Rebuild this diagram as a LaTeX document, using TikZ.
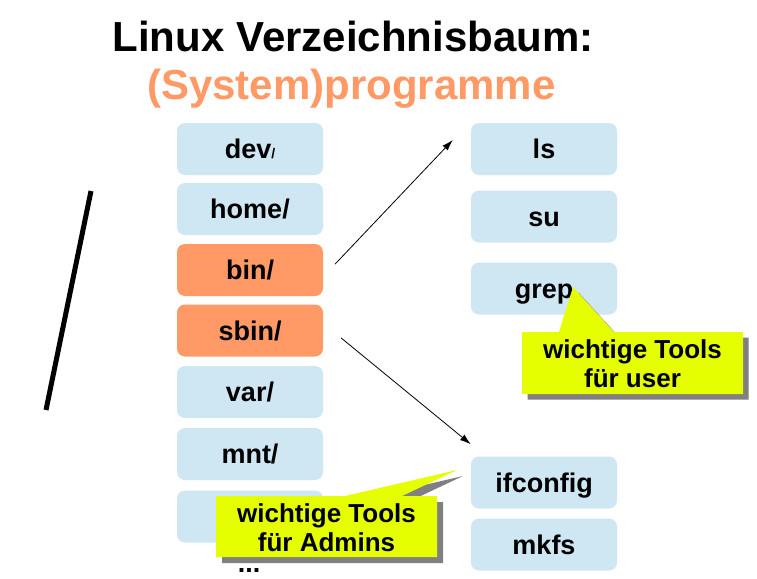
\documentclass[tikz,border=0pt]{standalone}
\usepackage{fontspec}
\setmainfont{Liberation Sans}
\usetikzlibrary{arrows.meta}
\definecolor{boxblue}{RGB}{207,230,243}
\definecolor{boxorange}{RGB}{255,153,102}
\definecolor{calloutyellow}{RGB}{229,255,0}
\definecolor{shadowgray}{RGB}{128,128,128}
\tikzset{
  dirbox/.style={rounded corners=8pt, fill=boxblue, minimum width=146pt, minimum height=52pt,
    inner sep=0pt, text height=19.5pt, text depth=0pt, font=\fontsize{27}{31}\selectfont\bfseries},
  hotbox/.style={dirbox, fill=boxorange},
  calltext/.style={align=center, inner sep=0pt, font=\fontsize{26}{29}\selectfont\bfseries},
  callshadow/.style={fill=shadowgray},
  callfill/.style={fill=calloutyellow},
  linkarrow/.style={-{Latex[length=11pt,width=7pt]}, line width=0.8pt},
  titlefont/.style={anchor=base, inner sep=0pt, font=\fontsize{42}{48}\selectfont\bfseries}
}
\begin{document}
\begin{tikzpicture}[x=1pt,y=-1pt]
\useasboundingbox[fill=white] (0,0) rectangle (757,578);
% title
\node[titlefont] (t1) at (353,52) {Linux Verzeichnisbaum:};
\node[titlefont, text=boxorange] (t2) at (351.5,99) {(System)programme};
% root slash
\draw[line width=5pt] (91,191) -- (46,410);
% left column
\node[dirbox] (dev) at (250,149) {dev{\fontsize{14}{16}\selectfont /}};
\node[dirbox] (home) at (250,209) {home/};
\node[hotbox] (bin) at (250,270) {bin/};
\node[hotbox] (sbin) at (250,330.5) {sbin/};
\node[dirbox] (var) at (250,392) {var/};
\node[dirbox] (mnt) at (250,454) {mnt/};
\node[dirbox] (blank) at (250,516.5) {};
\node[anchor=base, inner sep=0pt, font=\fontsize{27}{31}\selectfont\bfseries] (dots) at (249,572) {...};
% right column
\node[dirbox] (ls) at (544,149) {ls};
\node[dirbox] (su) at (544,216.5) {su};
\node[dirbox] (grep) at (544,288.5) {grep};
\node[dirbox] (ifconfig) at (544,482.5) {ifconfig};
\node[dirbox] (mkfs) at (544,544.5) {mkfs};
% arrows
\draw[linkarrow] ([xshift=12pt,yshift=6pt]bin.east) -- ([xshift=-18pt,yshift=9pt]ls.west);
\draw[linkarrow] ([xshift=18pt,yshift=-7.5pt]sbin.east) -- ([yshift=12pt]ifconfig.north west);
% callout: user
\fill[callshadow] (527.5,337.5) -- (564.5,337.5) -- (578.5,292.5) -- (619.5,337.5) -- (748.5,337.5) -- (748.5,399.5) -- (527.5,399.5) -- cycle;
\fill[callfill] (522,332) -- (559,332) -- (573,287) -- (614,332) -- (743,332) -- (743,394) -- (522,394) -- cycle;
\node[calltext] (cuser) at (632.5,364) {wichtige Tools\\für user};
% callout: admins
\fill[callshadow] (222,502) -- (351,502) -- (463,476) -- (408,502) -- (443,502) -- (443,563) -- (222,563) -- cycle;
\fill[callfill] (216,496) -- (345,496) -- (457,470) -- (402,496) -- (437,496) -- (437,557) -- (216,557) -- cycle;
\node[calltext] (cadmin) at (326.5,527.5) {wichtige Tools\\für Admins};
\end{tikzpicture}
\end{document}
